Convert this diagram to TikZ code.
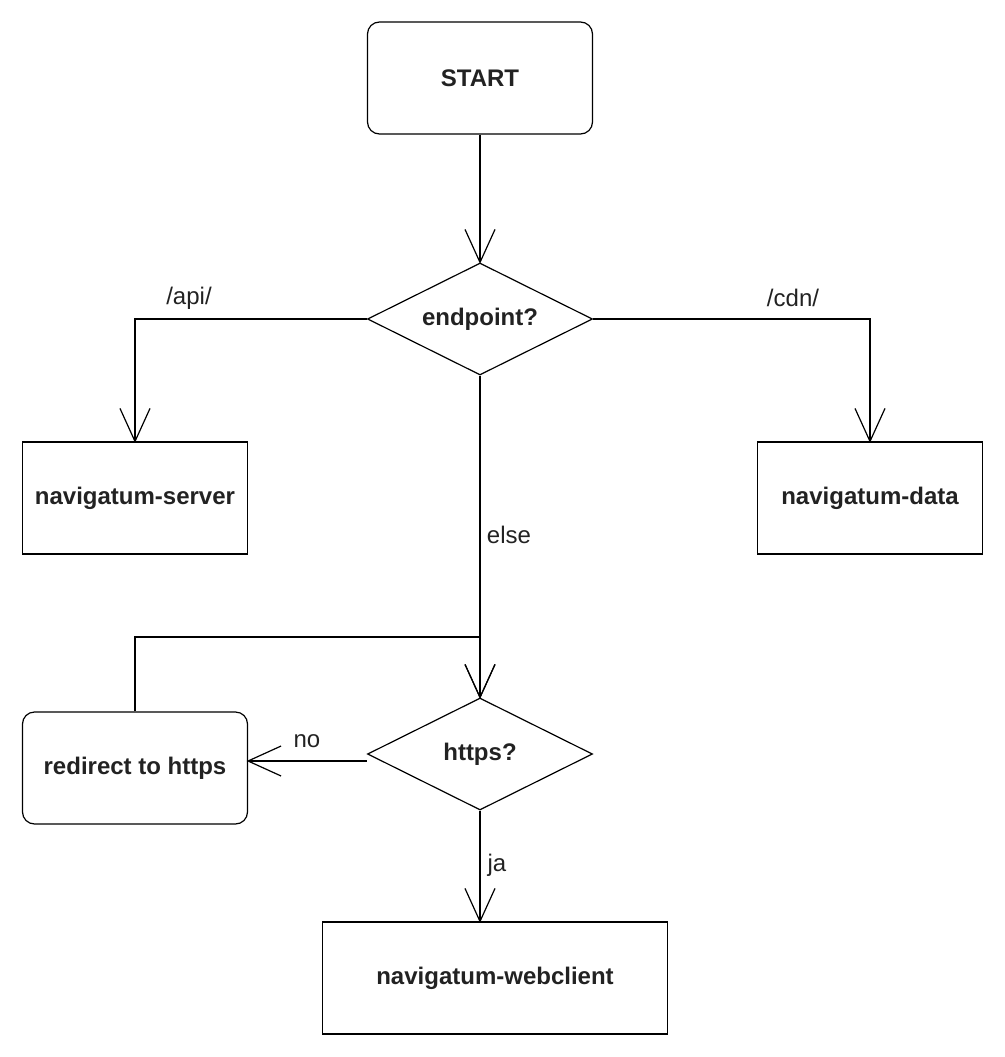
\documentclass[tikz,border=0pt]{standalone}
\usepackage{fontspec}
\setmainfont{Liberation Sans}
\usetikzlibrary{shapes.geometric, arrows.meta}
\definecolor{txtgray}{HTML}{222222}
% open arrow tip made of two straight lines
\pgfdeclarearrow{
	name = OpenVee,
	parameters = {\the\pgfarrowlength,\the\pgfarrowwidth},
	setup code = {
		\pgfarrowssettipend{0pt}
		\pgfarrowssetlineend{-.5\pgflinewidth}
		\pgfarrowssetbackend{-\pgfarrowlength}
		\pgfarrowshullpoint{0pt}{0pt}
		\pgfarrowshullpoint{-\pgfarrowlength}{.5\pgfarrowwidth}
		\pgfarrowshullpoint{-\pgfarrowlength}{-.5\pgfarrowwidth}
		\pgfarrowssavethe\pgfarrowlength
		\pgfarrowssavethe\pgfarrowwidth
	},
	drawing code = {
		\pgfsetdash{}{0pt}
		\pgfpathmoveto{\pgfqpoint{-\pgfarrowlength}{.5\pgfarrowwidth}}
		\pgfpathlineto{\pgfpointorigin}
		\pgfpathlineto{\pgfqpoint{-\pgfarrowlength}{-.5\pgfarrowwidth}}
		\pgfusepathqstroke
	},
	defaults = {length=24.75pt, width=22.5pt}
}
\tikzset{
	box/.style={draw, line width=0.9pt, minimum width=168.75pt, minimum height=84pt, inner sep=0pt, text=txtgray, font=\bfseries\fontsize{18}{21}\selectfont},
	term/.style={box, rounded corners=9pt},
	ask/.style={box, shape=diamond, aspect=2},
	lbl/.style={text=txtgray, inner sep=0pt, font=\fontsize{18}{21}\selectfont},
	arr/.style={line width=0.9pt, -{OpenVee}}
}
\begin{document}
\begin{tikzpicture}[x=0.75pt, y=-0.75pt]
	\useasboundingbox (0,0) rectangle (1005,1057);
  		\node[term] (start) at (480,78) {START};
  		\node[ask] (endpoint) at (480,319) {endpoint?};
  		\node[box] (server) at (135,498) {navigatum-server};
  		\node[box] (data) at (870,498) {navigatum-data};
  		\node[ask] (https) at (480,754) {https?};
  		\node[term] (redirect) at (135,768) {redirect to https};
  		\node[box, minimum width=258.75pt] (webclient) at (495,978) {navigatum-webclient};
		\coordinate (back) at (480,637);
  		\draw[arr] (start) -- (endpoint);
  		\draw[arr] (endpoint.west) -| (server.north);
  		\draw[arr] (endpoint.east) -| (data.north);
  		\draw[arr] (endpoint) -- (https);
		\draw[arr] (redirect.north) |- (back) -- (https.north);
		\draw[arr] (https.west |- 0,761) -- (redirect.east |- 0,761);
		\draw[arr] (https.south) -- (https.south |- webclient.north);
		% labels on the branches
		\node[lbl] (api) at (189,298) {/api/};
		\node[lbl] (cdn) at (793,298) {/cdn/};
		\node[lbl] (else) at (509,535) {else};
		\node[lbl] (no) at (307,741) {no};
		\node[lbl] (ja) at (497,865) {ja};
	\end{tikzpicture}
\end{document}
